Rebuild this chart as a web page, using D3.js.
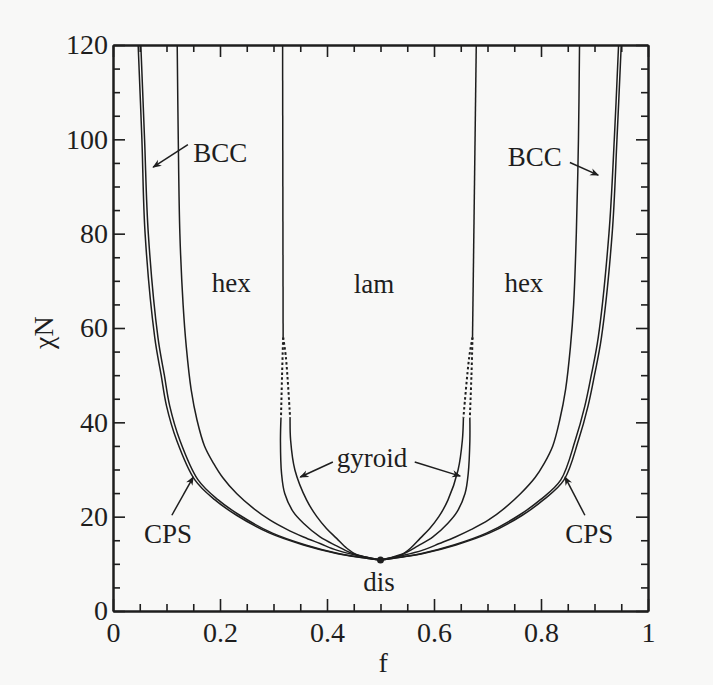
<!DOCTYPE html>
<html>
<head>
<meta charset="utf-8">
<title>Diblock phase diagram</title>
<script src="https://d3js.org/d3.v7.min.js"></script>
<style>
  body { margin: 0; background: #f8f8f7; }
  svg { display: block; }
  text { font-family: "Liberation Serif", "Times New Roman", serif; fill: #1e1e1e; }
</style>
</head>
<body>
<div class="chart"></div>
<script>
// ticks
const fTicks = [0, 0.2, 0.4, 0.6, 0.8, 1];
const chiTicks = [0, 20, 40, 60, 80, 100, 120];

// phase boundaries, [f, chiN]
// left side
const disCpsL = [[0.047,120],[0.054,100],[0.060,80],[0.078,58],[0.090,50],[0.100,43.5],[0.119,36.2],[0.153,27.8],[0.19,23.6],[0.231,20.3],[0.293,16.5],[0.356,14.0],[0.418,12.2],[0.46,11.4],[0.5,10.8]];
const cpsBccL = [[0.052,120],[0.059,100],[0.066,80],[0.084,58],[0.096,50],[0.106,43.5],[0.125,36.2],[0.159,27.8],[0.196,23.6],[0.237,20.3],[0.298,16.5],[0.360,14.0],[0.421,12.2],[0.462,11.4],[0.5,10.8]];
const bccHexL = [[0.120,120],[0.122,100],[0.125,80],[0.131,65],[0.137,56],[0.146,47],[0.157,40.5],[0.171,35],[0.188,31.3],[0.205,28.3],[0.231,24.9],[0.262,21.8],[0.293,19.3],[0.325,17.3],[0.356,15.7],[0.387,14.3],[0.418,12.9],[0.456,11.8],[0.5,10.8]];
const hexLamL = [[0.317,120],[0.318,58]];
const hexGyrDotL = [[0.318,58],[0.316,50],[0.314,41]];
const gyrLamDotL = [[0.318,58],[0.323,54],[0.331,41]];
const hexGyrL = [[0.314,41],[0.313,36],[0.315,29.2],[0.321,24.9],[0.337,21],[0.356,18.6],[0.387,15.7],[0.418,13.8],[0.443,12.4],[0.47,11.5],[0.5,10.8]];
const gyrLamL = [[0.331,41],[0.332,36.2],[0.340,29.9],[0.362,23.5],[0.381,20],[0.399,17.5],[0.418,15.4],[0.437,13.3],[0.456,11.9],[0.48,11.2],[0.5,10.8]];
// right side
const disCpsR = [[0.950,120],[0.942,100],[0.933,80],[0.913,58],[0.900,50],[0.888,43.5],[0.870,36.2],[0.843,27.8],[0.805,23.6],[0.765,20.3],[0.703,16.5],[0.641,14.0],[0.580,12.2],[0.538,11.4],[0.5,10.8]];
const cpsBccR = [[0.945,120],[0.937,100],[0.927,80],[0.907,58],[0.894,50],[0.882,43.5],[0.864,36.2],[0.837,27.8],[0.799,23.6],[0.759,20.3],[0.698,16.5],[0.637,14.0],[0.577,12.2],[0.536,11.4],[0.5,10.8]];
const bccHexR = [[0.872,120],[0.870,100],[0.866,80],[0.861,65],[0.855,56],[0.846,47],[0.835,40.5],[0.822,35],[0.806,31.3],[0.789,28.3],[0.762,24.9],[0.732,21.8],[0.702,19.3],[0.670,17.3],[0.640,15.7],[0.610,14.3],[0.579,12.9],[0.543,11.8],[0.5,10.8]];
const hexLamR = [[0.679,120],[0.672,58]];
const hexGyrDotR = [[0.672,58],[0.670,50],[0.667,41]];
const gyrLamDotR = [[0.672,58],[0.666,54],[0.655,41]];
const hexGyrR = [[0.667,41],[0.667,36],[0.664,29.2],[0.658,24.9],[0.643,21],[0.626,18.6],[0.598,15.7],[0.570,13.8],[0.548,12.4],[0.525,11.5],[0.5,10.8]];
const gyrLamR = [[0.655,41],[0.653,36.2],[0.645,29.9],[0.626,23.5],[0.609,20],[0.592,17.5],[0.574,15.4],[0.556,13.3],[0.539,11.9],[0.518,11.2],[0.5,10.8]];

const critPoint = [0.5, 10.8];

// labels [text, f, chiN, anchor]
const labels = [
  ["BCC", 0.150, 95.1, "start"],
  ["BCC", 0.738, 94.3, "start"],
  ["hex", 0.221, 67.6, "middle"],
  ["lam", 0.488, 67.4, "middle"],
  ["hex", 0.768, 67.6, "middle"],
  ["gyroid", 0.484, 30.5, "middle"],
  ["CPS", 0.103, 14.4, "middle"],
  ["CPS", 0.890, 14.4, "middle"],
  ["dis", 0.497, 4.2, "middle"]
];
// arrows [from, to]
const arrows = [
  [[0.140,98.9],[0.075,94.1]],
  [[0.854,95.1],[0.907,92.4]],
  [[0.411,31.6],[0.350,28.4]],
  [[0.564,31.6],[0.649,28.6]],
  [[0.110,20.3],[0.150,28.4]],
  [[0.882,20.3],[0.845,28.4]]
];

const W = 713, H = 685;
const margin = {top: 45, right: 65, bottom: 74, left: 113};

const svg = d3.select("div.chart").append("svg")
  .attr("width", W)
  .attr("height", H);

const x = d3.scaleLinear().domain([0, 1]).range([margin.left, W - margin.right]);
const y = d3.scaleLinear().domain([0, 120]).range([H - margin.bottom, margin.top]);

const ink = "#1e1e1e";

svg.append("defs").append("marker")
  .attr("id", "head")
  .attr("viewBox", "0 0 10 10")
  .attr("refX", 9).attr("refY", 5)
  .attr("markerWidth", 9).attr("markerHeight", 9)
  .attr("markerUnits", "userSpaceOnUse")
  .attr("orient", "auto")
  .append("path")
  .attr("d", "M0,1 L10,5 L0,9 L3,5 Z")
  .attr("fill", ink);

// axes, ticks pointing inward
const minorF = d3.range(0, 1.0001, 0.05).filter(v => fTicks.every(t => Math.abs(t - v) > 1e-6));
const minorChi = d3.range(0, 120.001, 5).filter(v => chiTicks.indexOf(v) < 0);

function styleAxis(g) {
  g.select(".domain").attr("stroke", ink).attr("stroke-width", 2);
  g.selectAll(".tick line").attr("stroke", ink).attr("stroke-width", 1.6);
  g.selectAll(".tick text").attr("fill", ink)
    .style("font-family", '"Liberation Serif", serif').style("font-size", "28px");
}

const fmtF = d => (d === 0 || d === 1) ? String(d) : d3.format(".1f")(d);

svg.append("g").attr("transform", `translate(0,${y(0)})`)
  .call(d3.axisBottom(x).tickValues(fTicks).tickFormat(fmtF).tickSizeInner(-12).tickSizeOuter(0).tickPadding(6))
  .call(styleAxis)
  .selectAll(".tick text").attr("dy", "0.9em");
svg.append("g").attr("transform", `translate(0,${y(0)})`)
  .call(d3.axisBottom(x).tickValues(minorF).tickFormat("").tickSizeInner(-7).tickSizeOuter(0))
  .call(styleAxis);
svg.append("g").attr("transform", `translate(0,${y(120)})`)
  .call(d3.axisTop(x).tickValues(fTicks).tickFormat("").tickSizeInner(-12).tickSizeOuter(0))
  .call(styleAxis);
svg.append("g").attr("transform", `translate(0,${y(120)})`)
  .call(d3.axisTop(x).tickValues(minorF).tickFormat("").tickSizeInner(-7).tickSizeOuter(0))
  .call(styleAxis);

svg.append("g").attr("transform", `translate(${x(0)},0)`)
  .call(d3.axisLeft(y).tickValues(chiTicks).tickSizeInner(-12).tickSizeOuter(0).tickPadding(5))
  .call(styleAxis);
svg.append("g").attr("transform", `translate(${x(0)},0)`)
  .call(d3.axisLeft(y).tickValues(minorChi).tickFormat("").tickSizeInner(-7).tickSizeOuter(0))
  .call(styleAxis);
svg.append("g").attr("transform", `translate(${x(1)},0)`)
  .call(d3.axisRight(y).tickValues(chiTicks).tickFormat("").tickSizeInner(-12).tickSizeOuter(0))
  .call(styleAxis);
svg.append("g").attr("transform", `translate(${x(1)},0)`)
  .call(d3.axisRight(y).tickValues(minorChi).tickFormat("").tickSizeInner(-7).tickSizeOuter(0))
  .call(styleAxis);

// axis titles
svg.append("text")
  .attr("x", x(0.505)).attr("y", H - 13)
  .attr("text-anchor", "middle")
  .style("font-size", "28px")
  .text("f");
svg.append("text")
  .attr("transform", `translate(53,${y(59)}) rotate(-90)`)
  .attr("text-anchor", "middle")
  .style("font-size", "28px")
  .text("\u03C7N");

// boundaries
const line = d3.line()
  .x(d => x(d[0]))
  .y(d => y(d[1]))
  .curve(d3.curveCatmullRom.alpha(0.5));

const solid = [disCpsL, cpsBccL, bccHexL, hexLamL, hexGyrL, gyrLamL,
               disCpsR, cpsBccR, bccHexR, hexLamR, hexGyrR, gyrLamR];
const dotted = [hexGyrDotL, gyrLamDotL, hexGyrDotR, gyrLamDotR];

svg.append("g").selectAll("path.solid")
  .data(solid).enter().append("path")
  .attr("class", "solid")
  .attr("d", line)
  .attr("fill", "none")
  .attr("stroke", ink)
  .attr("stroke-width", 1.5);

svg.append("g").selectAll("path.dotted")
  .data(dotted).enter().append("path")
  .attr("class", "dotted")
  .attr("d", line)
  .attr("fill", "none")
  .attr("stroke", ink)
  .attr("stroke-width", 2)
  .attr("stroke-dasharray", "2.5,2.5");

// critical point
svg.append("circle")
  .attr("cx", x(critPoint[0])).attr("cy", y(critPoint[1]))
  .attr("r", 3.5)
  .attr("fill", ink);

// arrows
svg.append("g").selectAll("line")
  .data(arrows).enter().append("line")
  .attr("x1", d => x(d[0][0])).attr("y1", d => y(d[0][1]))
  .attr("x2", d => x(d[1][0])).attr("y2", d => y(d[1][1]))
  .attr("stroke", ink)
  .attr("stroke-width", 1.5)
  .attr("marker-end", "url(#head)");

// phase labels
svg.append("g").selectAll("text")
  .data(labels).enter().append("text")
  .attr("x", d => x(d[1])).attr("y", d => y(d[2]))
  .attr("text-anchor", d => d[3])
  .style("font-size", "27px")
  .text(d => d[0]);
</script>
</body>
</html>
